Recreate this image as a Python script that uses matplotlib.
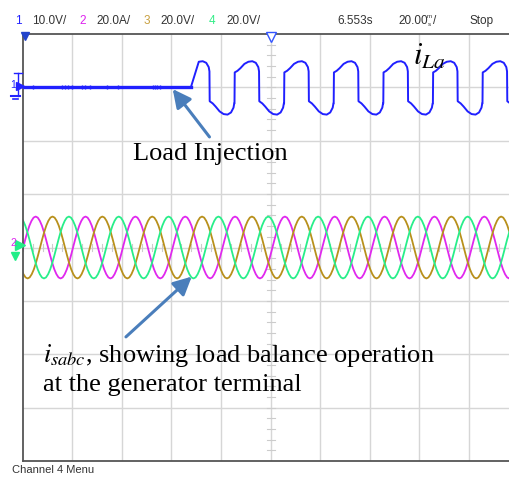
import matplotlib
matplotlib.use("Agg")
import matplotlib.pyplot as plt
import numpy as np

W, H = 510, 480

# scope screen is 10 x 8 divisions, all values below are in divisions
ch1_offset = 3.0          # i_La trace sits 3 div above centre
ch1_inject = 3.39         # load switched on here
ch1_first_rise = 4.27
ch1_period = 1.0
# one period of i_La, starting at a rising edge
ch1_phase = [0.0, 0.005, 0.06, 0.12, 0.20, 0.28, 0.36, 0.43, 0.48, 0.495,
             0.50, 0.56, 0.62, 0.70, 0.78, 0.86, 0.93, 0.98, 0.995]
ch1_wave = [-0.30, 0.28, 0.31, 0.36, 0.44, 0.48, 0.49, 0.46, 0.38, 0.30,
            -0.26, -0.30, -0.36, -0.45, -0.50, -0.51, -0.47, -0.38, -0.30]
# little spikes on the flat part before injection
ch1_spikes = [0.21, 0.79, 0.85, 0.91, 0.99, 1.20, 1.26, 1.36, 1.70, 1.92,
              2.63, 2.67, 2.71, 2.77]

# source currents, one period (24 samples) from rising zero crossing
sabc_period = 1.005
sabc_cycle = [0.00, 0.15, 0.29, 0.41, 0.50, 0.56, 0.58, 0.56, 0.50, 0.41, 0.29, 0.15,
              0.00, -0.15, -0.29, -0.41, -0.50, -0.56, -0.58, -0.56, -0.50, -0.41, -0.29, -0.15]
sabc_start = [0.01, 0.35, 0.68]
sabc_colors = ["#e028ee", "#b8901c", "#28ee8a"]

header_items = [("1", "#2222ff"), ("10.0V/", "#333333"), ("2", "#dd22ee"), ("20.0A/", "#333333"),
                ("3", "#c8a040"), ("20.0V/", "#333333"), ("4", "#33ee88"), ("20.0V/", "#333333"),
                ("6.553s", "#333333"), ("20.00", "#333333"), ("Stop", "#333333")]
header_x = [15, 32, 79, 96, 144, 160, 209, 226, 337, 398, 470]

narrow = ["Liberation Sans", "DejaVu Sans"]
serif = ["Liberation Serif", "DejaVu Serif"]
plt.rcParams["mathtext.fontset"] = "stix"

fig = plt.figure(figsize=(W / 100, H / 100), dpi=100)
ax = fig.add_axes([22.7 / W, 19 / H, 496 / W, 427 / H])
ax.set_xlim(0, 10)
ax.set_ylim(-4, 4)


def px(x, y):
    return x / W, 1 - y / H


def mark(x, y, **kw):
    fx, fy = px(x, y)
    fig.lines.append(plt.Line2D([fx], [fy], transform=fig.transFigure, **kw))


def seg(x0, y0, x1, y1, **kw):
    a, b = px(x0, y0), px(x1, y1)
    fig.lines.append(plt.Line2D([a[0], b[0]], [a[1], b[1]], transform=fig.transFigure, **kw))


# graticule
for i in range(1, 10):
    ax.axvline(i, color="#d6d6d6", lw=1, zorder=0)
for j in range(-3, 4):
    ax.axhline(j, color="#d6d6d6", lw=1, zorder=0)
for t in np.arange(-4, 4.01, 0.2):
    ax.plot([4.92, 5.08], [t, t], color="#cccccc", lw=0.8, zorder=0)
for t in np.arange(0, 10.01, 0.2):
    ax.plot([t, t], [-0.07, 0.07], color="#cccccc", lw=0.8, zorder=0)
for s in ["left", "bottom", "top"]:
    ax.spines[s].set_color("#555555")
    ax.spines[s].set_linewidth(1.3)
ax.spines["right"].set_visible(False)
ax.set_xticks([])
ax.set_yticks([])

# three phase source currents
for start, col in zip(sabc_start, sabc_colors):
    xs, ys = [], []
    for k in range(-2, 12):
        xs.append(start + (k + np.arange(24) / 24) * sabc_period)
        ys.append(sabc_cycle)
    ax.plot(np.concatenate(xs), np.concatenate(ys), color=col, lw=1.3, zorder=2)

# load current
xs, ys = [], []
for k in range(-1, 8):
    xs.append(ch1_first_rise + (k + np.array(ch1_phase)) * ch1_period)
    ys.append(ch1_wave)
xs = np.concatenate(xs)
ys = np.concatenate(ys)
keep = xs >= ch1_inject + 0.08
xs = np.concatenate([[-0.5, ch1_inject], xs[keep]])
ys = np.concatenate([[0, 0], ys[keep]])
ax.plot(xs, ys + ch1_offset, color="#2020ff", lw=1.4, zorder=3)
ax.plot([0, ch1_inject], [ch1_offset, ch1_offset], color="#2020ff", lw=2.4, zorder=3)
ax.plot(ch1_spikes, [ch1_offset] * len(ch1_spikes), ls="none", marker="|",
        ms=3.5, mew=1, color="#2020ff", zorder=3)

# annotations
arrow = dict(arrowstyle="-|>,head_length=1.1,head_width=0.55", color="#4a7ebb", lw=2.2)
ax.annotate("", xy=(2.99, 3.01), xytext=(3.80, 2.03), arrowprops=arrow, zorder=5)
ax.annotate("", xy=(3.45, -0.51), xytext=(2.04, -1.71), arrowprops=arrow, zorder=5)
ax.text(2.22, 1.76, "Load Injection", family=serif, fontsize=19, va="center", ha="left")
ax.text(0.40, -2.02, r"$i_{sabc}$, showing load balance operation", family=serif,
        fontsize=19, va="center", ha="left")
ax.text(0.40, -2.58, "at the generator terminal", family=serif, fontsize=19,
        va="center", ha="left")
ax.text(7.87, 3.58, r"$i_{La}$", fontsize=22, va="center", ha="left")

# header line
for (txt, col), x in zip(header_items, header_x):
    fig.text(*px(x, 21), txt, color=col, family=narrow, fontsize=8.5, va="center", ha="left")
fig.text(*px(427, 17), "m", color="#333333", family=narrow, fontsize=4.5, va="center", ha="left")
fig.text(*px(428, 24), "s", color="#333333", family=narrow, fontsize=4.5, va="center", ha="left")
fig.text(*px(433, 21), "/", color="#333333", family=narrow, fontsize=8.5, va="center", ha="left")
fig.text(*px(12, 470), "Channel 4 Menu", color="#333333", family=narrow, fontsize=8,
         va="center", ha="left")

# channel markers
fig.text(*px(10, 85), "1", color="#2222ff", family=narrow, fontsize=7.5, va="center")
seg(18, 73, 18, 96, color="#2222ff", lw=1)
seg(14, 73, 22, 73, color="#2222ff", lw=1)
seg(11, 96, 20, 96, color="#2222ff", lw=1.5)
seg(13, 99, 18, 99, color="#2222ff", lw=1.2)
mark(20, 86, marker=">", ms=6, color="#2222ff")
fig.text(*px(10, 243), "2", color="#dd22ee", family=narrow, fontsize=7.5, va="center")
mark(20, 245, marker=">", ms=7, color="#22ee88")
mark(15, 256, marker="v", ms=6, color="#22ee88")
mark(25, 36, marker="v", ms=6, color="#2244cc")
mark(271, 37, marker="v", ms=7, mfc="white", mec="#3355ff", color="#3355ff")

fig.savefig("out.png", dpi=100, facecolor="white")
